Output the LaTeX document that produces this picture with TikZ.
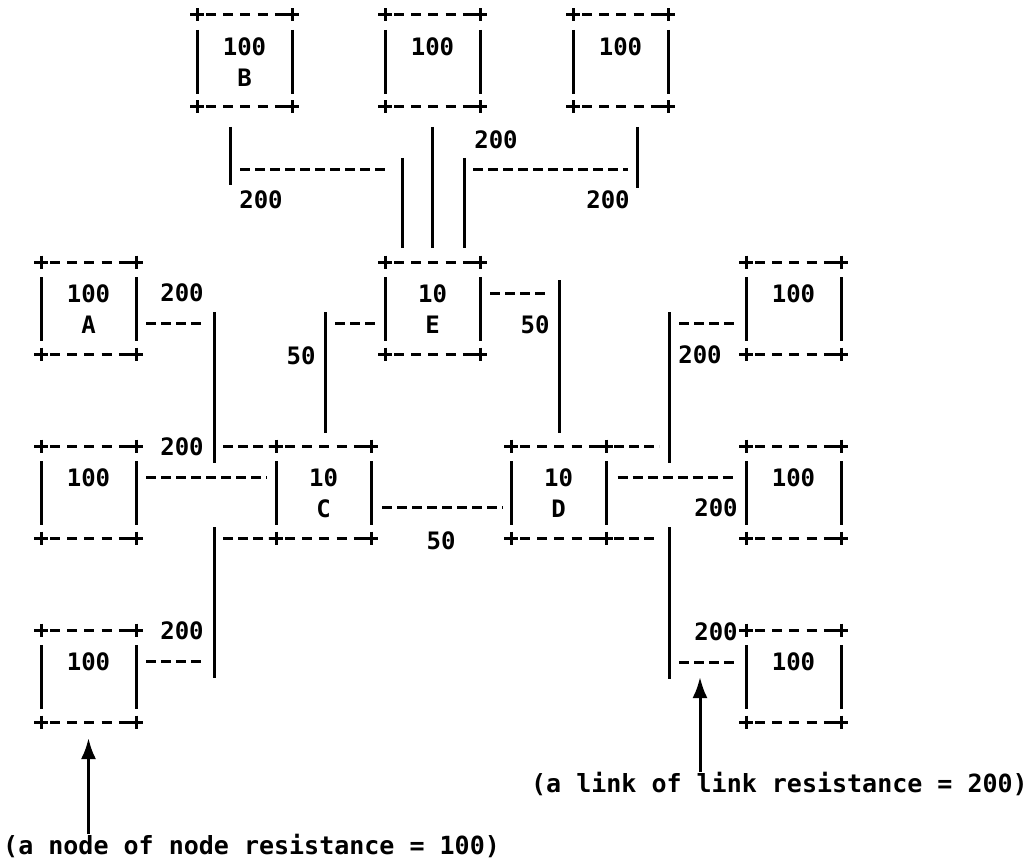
\documentclass[tikz,border=0pt]{standalone}
\usepackage{fontspec}
\usetikzlibrary{calc,arrows.meta}
\newfontfamily\twfont{DejaVu Sans Mono}
\newcommand\bstrut{\rule[-5.3pt]{0pt}{31pt}}
\newcommand\asciibox[1]{%
  \draw[boxdash] ($(#1.north west)+(9,0)$) -- ($(#1.north east)+(-7,0)$);
  \draw[boxdash] ($(#1.south west)+(9,0)$) -- ($(#1.south east)+(-7,0)$);
  \draw[solidbar] ($(#1.north west)+(0,15)$) -- ($(#1.south west)+(0,-13)$);
  \draw[solidbar] ($(#1.north east)+(0,15)$) -- ($(#1.south east)+(0,-13)$);
  \foreach \cc in {north west,north east,south west,south east}{
    \draw[solidbar] ($(#1.\cc)+(-7,0)$) -- ++(14,0);
    \draw[solidbar] ($(#1.\cc)+(0,-6.5)$) -- ++(0,13);
  }%
}
\begin{document}
\begin{tikzpicture}[x=1pt,y={(0pt,-1pt)},
  boxnode/.style={font=\twfont\bfseries\fontsize{24}{31}\selectfont, align=center,
    minimum width=95pt, minimum height=92pt, inner sep=0pt, outer sep=0pt},
  solidbar/.style={line width=3pt},
  boxdash/.style={line width=3pt, dash pattern=on 10pt off 7.2pt},
  dashlink/.style={line width=3pt, dash pattern=on 10pt off 5pt},
  lab/.style={font=\twfont\bfseries\fontsize{24}{28}\selectfont, inner sep=0pt},
  note/.style={font=\twfont\bfseries\fontsize{25}{30}\selectfont, inner sep=0pt},
  arrowline/.style={line width=3pt, -{Latex[length=21pt,width=15pt]}}]
\fill[white] (0,0) rectangle (1035,861);
\useasboundingbox (0,0) rectangle (1035,861);

% nodes
\node[boxnode] (B)  at (244.5,61) {\bstrut 100\\\bstrut B};
\node[boxnode] (T2) at (432.5,61) {\bstrut 100\\\bstrut};
\node[boxnode] (T3) at (620.5,61) {\bstrut 100\\\bstrut};
\node[boxnode] (A)  at (88.5,308) {\bstrut 100\\\bstrut A};
\node[boxnode] (E)  at (432.5,308) {\bstrut 10\\\bstrut E};
\node[boxnode] (R1) at (793.5,308) {\bstrut 100\\\bstrut};
\node[boxnode] (L2) at (88.5,492) {\bstrut 100\\\bstrut};
\node[boxnode] (C)  at (323.5,492) {\bstrut 10\\\bstrut C};
\node[boxnode] (D)  at (558.5,492) {\bstrut 10\\\bstrut D};
\node[boxnode] (R2) at (793.5,492) {\bstrut 100\\\bstrut};
\node[boxnode] (L3) at (88.5,676) {\bstrut 100\\\bstrut};
\node[boxnode] (R3) at (793.5,676) {\bstrut 100\\\bstrut};
\foreach \n in {B,T2,T3,A,E,R1,L2,C,D,R2,L3,R3}{\asciibox{\n}}

% B--E
\draw[solidbar] ($(B.south)+(-14.5,20)$) -- ($(B.south)+(-14.5,78)$);
\draw[dashlink] ($(B.south)+(-4.5,63)$) -- ($(E.north)+(-44.5,-92)$);
\draw[solidbar] ($(E.north)+(-30.5,-104)$) -- ($(E.north)+(-30.5,-14)$);
% T2--E
\draw[solidbar] ($(T2.south)+(0,20)$) -- ($(E.north)+(0,-14)$);
% T3--E
\draw[solidbar] ($(T3.south)+(16.5,20)$) -- ($(T3.south)+(16.5,81)$);
\draw[dashlink] ($(E.north)+(40.5,-92)$) -- ($(T3.south)+(7.5,63)$);
\draw[solidbar] ($(E.north)+(31.5,-104)$) -- ($(E.north)+(31.5,-14)$);
% A--C
\draw[dashlink] ($(A.east)+(10,15)$) -- ($(A.east)+(67,15)$);
\draw[solidbar] ($(A.east)+(78,4)$) -- ($(A.east)+(78,155)$);
\draw[dashlink] ($(C.north west)+(-53,0)$) -- ($(C.north west)+(-8,0)$);
% L2--C
\draw[dashlink] ($(L2.east)+(10,-15)$) -- ($(C.west)+(-9,-15)$);
% L3--C
\draw[dashlink] ($(L3.east)+(10,-15)$) -- ($(L3.east)+(67,-15)$);
\draw[solidbar] ($(L3.east)+(78,-149)$) -- ($(L3.east)+(78,2)$);
\draw[dashlink] ($(C.south west)+(-53,0)$) -- ($(C.south west)+(-8,0)$);
% E--C
\draw[dashlink] ($(E.west)+(-50,15)$) -- ($(E.west)+(-8,15)$);
\draw[solidbar] ($(E.west)+(-60,4)$) -- ($(C.north)+(1.5,-13)$);
% E--D
\draw[dashlink] ($(E.east)+(10,-15)$) -- ($(E.east)+(68,-15)$);
\draw[solidbar] ($(E.east)+(79,-28)$) -- ($(D.north)+(0.5,-13)$);
% C--D
\draw[dashlink] ($(C.east)+(11,15)$) -- ($(D.west)+(-8.5,15)$);
% R1--D
\draw[dashlink] ($(R1.west)+(-67,15)$) -- ($(R1.west)+(-9,15)$);
\draw[solidbar] ($(R1.west)+(-77,4)$) -- ($(R1.west)+(-77,155)$);
\draw[dashlink] ($(D.north east)+(8,0)$) -- ($(D.north east)+(53,0)$);
% R2--D
\draw[dashlink] ($(D.east)+(11.5,-15)$) -- ($(R2.west)+(-9,-15)$);
% R3--D
\coordinate (linkpt) at ($(R3.west)+(-46,-14)$);
\draw[dashlink] ($(R3.west)+(-67,-14)$) -- ($(R3.west)+(-11,-14)$);
\draw[solidbar] ($(R3.west)+(-77,-149)$) -- ($(R3.west)+(-77,3)$);
\draw[dashlink] ($(D.south east)+(8,0)$) -- ($(D.south east)+(52,0)$);

% link labels
\node[lab] (lBE) at (261,200) {200};
\node[lab] (lT2) at (496,140) {200};
\node[lab] (lT3) at (608,200) {200};
\node[lab] (lAC) at (182,293) {200};
\node[lab] (lL2) at (182,447) {200};
\node[lab] (lL3) at (182,631) {200};
\node[lab] (lEC) at (301,356) {50};
\node[lab] (lED) at (535,325) {50};
\node[lab] (lCD) at (441,541) {50};
\node[lab] (lR1) at (700,355) {200};
\node[lab] (lR2) at (716,508) {200};
\node[lab] (lR3) at (716,632) {200};

% annotations
\node[note, anchor=west] (nodenote) at (3,846) {(a node of node resistance = 100)};
\node[note, anchor=east] (linknote) at (1028,784) {(a link of link resistance = 200)};
\draw[arrowline] (nodenote.north -| L3.south) -- ($(L3.south)+(0,16)$);
\draw[arrowline] (linknote.north -| linkpt) -- ($(linkpt)+(0,15)$);
\end{tikzpicture}
\end{document}
